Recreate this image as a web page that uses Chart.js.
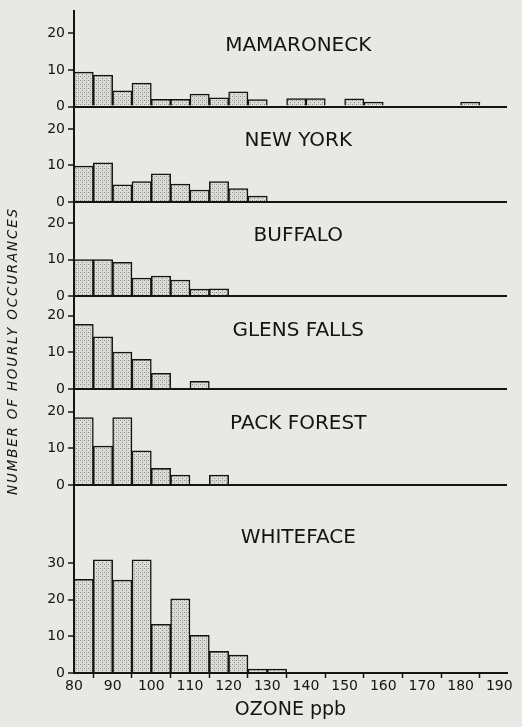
<!DOCTYPE html>
<html>
<head>
<meta charset="utf-8">
<title>Ozone hourly occurrences</title>
<script src="https://cdn.jsdelivr.net/npm/chart.js@4.4.1/dist/chart.umd.min.js"></script>
<style>
  html, body { margin: 0; padding: 0; background: #e8e8e5; }
  canvas { display: block; }
</style>
</head>
<body>
<canvas id="ozone" width="522" height="727"></canvas>
<script>
// 5 ppb bins, start of each bin
var binStarts = [80, 85, 90, 95, 100, 105, 110, 115, 120, 125, 130, 135, 140, 145, 150, 155, 160, 165, 170, 175, 180, 185];
var binWidth = 5;

var stations = ['MAMARONECK', 'NEW YORK', 'BUFFALO', 'GLENS FALLS', 'PACK FOREST', 'WHITEFACE'];

// hourly counts per bin
var mamaroneck = [9.4, 8.6, 4.3, 6.4, 2, 2, 3.4, 2.4, 4, 1.9, 0, 2.2, 2.2, 0, 2.1, 1.2, 0, 0, 0, 0, 1.2, 0];
var newYork    = [9.8, 10.7, 4.7, 5.6, 7.7, 4.9, 3.3, 5.6, 3.7, 1.6];
var buffalo    = [10, 10, 9.2, 4.9, 5.5, 4.4, 1.9, 2];
var glensFalls = [17.7, 14.3, 10.1, 8.1, 4.3, 0, 2.1];
var packForest = [18.4, 10.6, 18.4, 9.3, 4.5, 2.7, 0, 2.7];
var whiteface  = [25.6, 30.9, 25.4, 30.9, 13.3, 20.3, 10.3, 5.9, 4.9, 1.1, 1.1];

var series = [mamaroneck, newYork, buffalo, glensFalls, packForest, whiteface];

var xTicks = [80, 90, 100, 110, 120, 130, 140, 150, 160, 170, 180, 190];
var yTicksSmall = [0, 10, 20];
var yTicksWhiteface = [0, 10, 20, 30];

// panel layout (axis tops, where the station names sit)
var panelTop = [26, 26.1, 25.7, 25.4, 26.2, 51.4];
var titleX = 138;
var titleY = [16.5, 16.7, 16.6, 16.0, 16.8, 36.9];

var ink = '#141414';
var font = '"DejaVu Sans", sans-serif';

function makeStipple() {
    var c = document.createElement('canvas');
    c.width = 4;
    c.height = 4;
    var g = c.getContext('2d');
    g.fillStyle = '#dcdcd8';
    g.fillRect(0, 0, 4, 4);
    g.fillStyle = '#8a8a86';
    g.fillRect(0, 0, 1, 1);
    g.fillRect(2, 2, 1, 1);
    g.fillStyle = '#b0b0ac';
    g.fillRect(2, 0, 1, 1);
    return g.createPattern(c, 'repeat');
}

var stipple = makeStipple();

var scales = {
    x: {
        type: 'linear',
        min: 80,
        max: 192,
        offset: false,
        afterBuildTicks: function(scale) {
            scale.ticks = xTicks.map(function(v) { return {value: v}; });
        },
        afterFit: function(scale) { scale.height = 54; },
        border: {color: ink, width: 2},
        grid: {drawOnChartArea: false, tickLength: 5, tickColor: ink, tickWidth: 1.5},
        ticks: {color: ink, font: {family: font, size: 14}, padding: 0, maxRotation: 0, autoSkip: false},
        title: {display: true, text: 'OZONE ppb', color: ink, font: {family: font, size: 19}, padding: {top: 0, bottom: 6}}
    }
};

stations.forEach(function(name, i) {
    var yTicks = i === stations.length - 1 ? yTicksWhiteface : yTicksSmall;
    scales['y' + i] = {
        type: 'linear',
        position: 'left',
        stack: 'panels',
        stackWeight: panelTop[i],
        weight: stations.length - i,
        min: 0,
        max: panelTop[i],
        afterBuildTicks: function(scale) {
            scale.ticks = yTicks.map(function(v) { return {value: v}; });
        },
        afterFit: function(scale) { scale.width = 74; },
        border: {color: ink, width: 2, z: 1},
        grid: {
            z: 1,
            color: function(ctx) { return ctx.tick && ctx.tick.value === 0 ? ink : 'rgba(0,0,0,0)'; },
            lineWidth: 2,
            tickColor: ink,
            tickLength: 6,
            tickWidth: 1.5
        },
        ticks: {color: ink, font: {family: font, size: 14}, padding: 3}
    };
});

var stationLabels = {
    id: 'stationLabels',
    afterDatasetsDraw: function(chart) {
        var ctx = chart.ctx;
        ctx.save();
        ctx.fillStyle = ink;
        ctx.textAlign = 'center';
        ctx.textBaseline = 'middle';
        ctx.font = '20px ' + font;
        stations.forEach(function(name, i) {
            var x = chart.scales.x.getPixelForValue(titleX);
            var y = chart.scales['y' + i].getPixelForValue(titleY[i]);
            ctx.fillText(name, x, y);
        });
        ctx.translate(13, 351);
        ctx.rotate(-Math.PI / 2);
        ctx.font = 'italic 13.5px ' + font;
        ctx.letterSpacing = '1.8px';
        ctx.fillText('NUMBER OF HOURLY OCCURANCES', 0, 0);
        ctx.restore();
    }
};

var chart = new Chart(document.getElementById('ozone'), {
    type: 'bar',
    data: {
        datasets: stations.map(function(name, i) {
            return {
                label: name,
                yAxisID: 'y' + i,
                data: series[i].map(function(v, k) {
                    return {x: binStarts[k] + binWidth / 2, y: v};
                }).filter(function(p) { return p.y > 0; }),
                backgroundColor: stipple,
                borderColor: ink,
                borderWidth: 1.5,
                grouped: false,
                barPercentage: 1,
                categoryPercentage: 1
            };
        })
    },
    options: {
        responsive: false,
        animation: false,
        devicePixelRatio: 1,
        layout: {padding: {top: 8, right: 15, left: 0, bottom: 0}},
        scales: scales,
        plugins: {
            legend: {display: false},
            tooltip: {enabled: false}
        }
    },
    plugins: [stationLabels]
});
</script>
</body>
</html>
